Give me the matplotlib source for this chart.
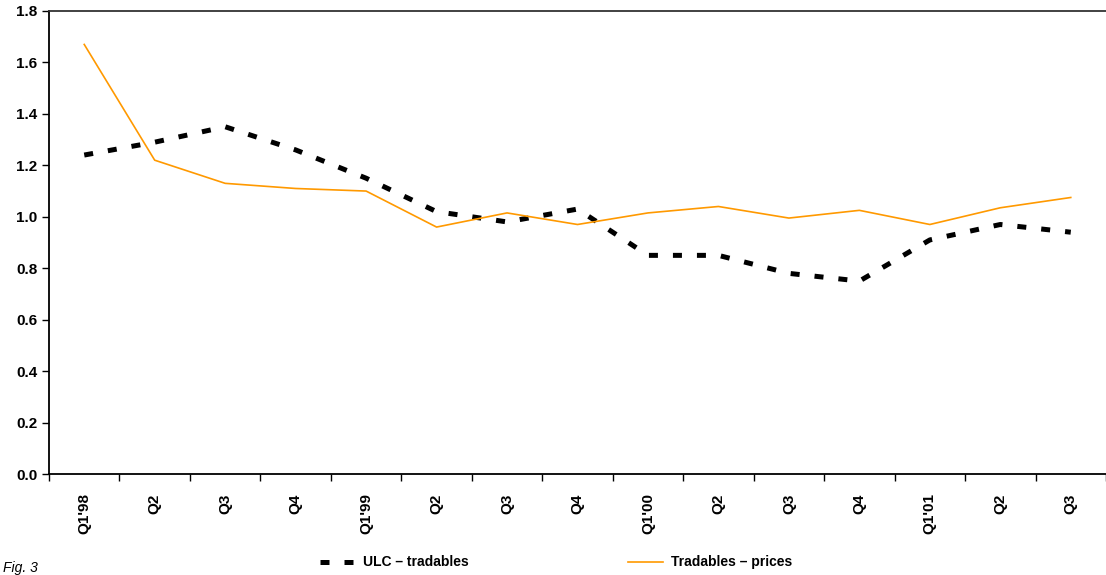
import matplotlib.pyplot as plt
import numpy as np

quarters = ["Q1'98", "Q2", "Q3", "Q4", "Q1'99", "Q2", "Q3", "Q4",
            "Q1'00", "Q2", "Q3", "Q4", "Q1'01", "Q2", "Q3"]
ulc_tradables = [1.24, 1.29, 1.35, 1.26, 1.15, 1.02, 0.98, 1.03,
                 0.85, 0.85, 0.78, 0.75, 0.91, 0.97, 0.94]
tradables_prices = [1.67, 1.22, 1.13, 1.11, 1.10, 0.96, 1.015, 0.97,
                    1.015, 1.04, 0.995, 1.025, 0.97, 1.035, 1.075]

plt.rcParams['font.family'] = ['Liberation Sans', 'DejaVu Sans']

fig = plt.figure(figsize=(11.06, 5.75), dpi=100)
ax = fig.add_axes([49 / 1106, 1 - 474 / 575, 1057 / 1106, 463 / 575])

x = np.arange(len(quarters))
ax.plot(x, ulc_tradables, color='black', linewidth=3.6, linestyle=(0, (1.8, 3.0)),
        dash_capstyle='butt', label='ULC \u2013 tradables')
ax.plot(x, tradables_prices, color='#ff9900', linewidth=1.2,
        label='Tradables \u2013 prices')

ax.set_xlim(-0.5, len(quarters) - 0.5)
ax.set_ylim(0, 1.8)
yt = np.arange(0, 1.81, 0.2)
ax.set_yticks(yt)
ax.set_yticklabels(['%.1f' % v for v in yt], fontsize=11, fontweight='bold')
ax.set_xticks(x)
ax.set_xticklabels(quarters, rotation=90, fontsize=11, fontweight='bold', va='top')
ax.set_xticks(np.arange(-0.5, len(quarters), 1), minor=True)
ax.tick_params(axis='x', which='major', length=0, pad=14)
ax.tick_params(axis='x', which='minor', length=5, width=1)
ax.tick_params(axis='y', length=5, width=1, direction='out')

ax.spines['right'].set_visible(False)
for s in ['left', 'bottom', 'top']:
    ax.spines[s].set_linewidth(1.3)
ax.spines['top'].set_color('#333333')

fig.legend(loc='lower center', bbox_to_anchor=(0.503, -0.012), ncol=2,
           frameon=False, columnspacing=11.5, handlelength=2.5, handletextpad=0.6,
           prop={'weight': 'bold', 'size': 10})

fig.text(0.003, 0.0, 'Fig. 3', fontsize=10, style='italic', va='bottom')

fig.savefig('out.png', dpi=100)
